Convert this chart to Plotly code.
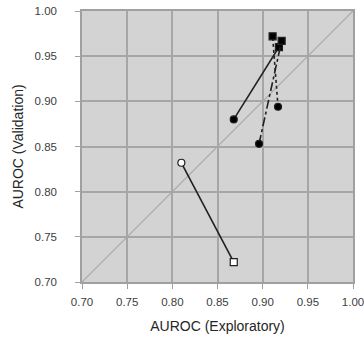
import plotly.graph_objects as go

# Data (AUROC exploratory vs validation)
open_x = [0.810, 0.868]
open_y = [0.832, 0.722]
solid_x = [0.868, 0.918]
solid_y = [0.880, 0.960]
dashdot_x = [0.896, 0.921]
dashdot_y = [0.853, 0.967]
dot_x = [0.917, 0.911]
dot_y = [0.894, 0.972]
diag = [0.70, 1.00]
ticks = [0.70, 0.75, 0.80, 0.85, 0.90, 0.95, 1.00]
tick_text = ["0.70", "0.75", "0.80", "0.85", "0.90", "0.95", "1.00"]

fig = go.Figure()
fig.add_trace(go.Scatter(x=diag, y=diag, mode="lines",
                         line=dict(color="#a8a8a8", width=1.2), hoverinfo="skip"))

def pair(x, y, dash, sym0, sym1, fill):
    fig.add_trace(go.Scatter(x=x, y=y, mode="lines",
                             line=dict(color="#202020", width=1.6, dash=dash)))
    fig.add_trace(go.Scatter(x=[x[0]], y=[y[0]], mode="markers",
                             marker=dict(symbol=sym0, size=7, color=fill,
                                         line=dict(color="#202020", width=1.2))))
    fig.add_trace(go.Scatter(x=[x[1]], y=[y[1]], mode="markers",
                             marker=dict(symbol=sym1, size=7, color=fill,
                                         line=dict(color="#202020", width=1.2))))

pair(open_x, open_y, "solid", "circle", "square", "white")
pair(solid_x, solid_y, "solid", "circle", "square", "black")
pair(dashdot_x, dashdot_y, "dashdot", "circle", "square", "black")
pair(dot_x, dot_y, "dot", "circle", "square", "black")

axis_common = dict(range=[0.70, 1.00], tickvals=ticks, ticktext=tick_text,
                   showgrid=True, gridcolor="#a6a6a6", gridwidth=1.5,
                   showline=True, linecolor="#a0a0a0", linewidth=1.5, mirror=True,
                   ticks="outside", ticklen=5, tickcolor="#a0a0a0",
                   tickfont=dict(family="Liberation Sans, Arial", size=11.5, color="#404040"),
                   ticklabeloverflow="allow",
                   zeroline=False, fixedrange=True, automargin=False)

fig.update_layout(
    width=364, height=339,
    margin=dict(l=82, r=11, t=11, b=57),
    paper_bgcolor="white", plot_bgcolor="#d3d3d3",
    showlegend=False,
    xaxis=dict(**axis_common, ticklabelstandoff=3,
               title=dict(text="AUROC (Exploratory)", standoff=15,
                          font=dict(family="Liberation Sans, Arial", size=14, color="#262626"))),
    yaxis=dict(**axis_common, ticklabelstandoff=16,
               title=dict(text="AUROC (Validation)", standoff=8,
                          font=dict(family="Liberation Sans, Arial", size=14, color="#262626"))),
)

fig.write_html("out.html", config={"displayModeBar": False},
               post_script="document.body.style.margin='0';")
